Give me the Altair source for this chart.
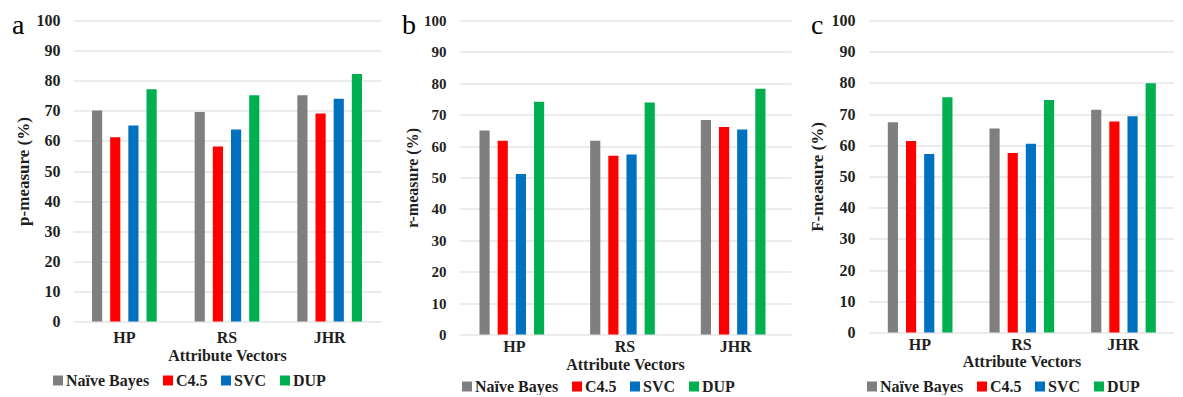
import altair as alt
import pandas as pd

vectors = ["HP", "RS", "JHR"]
methods = ["Naïve Bayes", "C4.5", "SVC", "DUP"]
colors = ["#7f7f7f", "#ff0000", "#0070c0", "#00b050"]

# panel a: p-measure
p_nb = [70.1, 69.6, 75.2]
p_c45 = [61.2, 58.1, 69.1]
p_svc = [65.1, 63.8, 74.0]
p_dup = [77.2, 75.2, 82.2]

# panel b: r-measure
r_nb = [65.0, 61.7, 68.3]
r_c45 = [61.7, 56.9, 66.1]
r_svc = [51.1, 57.3, 65.3]
r_dup = [74.1, 73.9, 78.3]

# panel c: F-measure
f_nb = [67.4, 65.4, 71.4]
f_c45 = [61.4, 57.5, 67.6]
f_svc = [57.2, 60.5, 69.3]
f_dup = [75.4, 74.5, 79.9]

panel_letters = ["a", "b", "c"]
y_titles = ["p-measure (%)", "r-measure (%)", "F-measure (%)"]
x_title = "Attribute Vectors"
y_ticks = [0, 10, 20, 30, 40, 50, 60, 70, 80, 90, 100]

FONT = "Liberation Serif"
TXT = "#1f1f1f"


def make_df(series):
    rows = []
    for m, vals in zip(methods, series):
        for v, val in zip(vectors, vals):
            rows.append({"vector": v, "method": m, "value": val})
    return pd.DataFrame(rows)


def panel(letter, ytitle, series, width, height, fs, yfs, lab_pad_y, title_pad_y,
          lab_pad_x, title_pad_x, letter_x, leg_x, leg_y):
    df = make_df(series)
    bars = alt.Chart(df).mark_bar().encode(
        x=alt.X("vector:N", sort=vectors,
                scale=alt.Scale(paddingInner=0.37, paddingOuter=0.185),
                axis=alt.Axis(title=x_title, labelAngle=0, ticks=False, tickSize=0,
                              domain=False, grid=False, labelFont=FONT,
                              labelFontWeight="bold", labelFontSize=fs,
                              labelColor=TXT, labelPadding=lab_pad_x,
                              titleFont=FONT, titleFontWeight="bold",
                              titleFontSize=fs, titleColor=TXT,
                              titlePadding=title_pad_x)),
        xOffset=alt.XOffset("method:N", sort=methods,
                            scale=alt.Scale(paddingInner=0.44, paddingOuter=0)),
        y=alt.Y("value:Q", scale=alt.Scale(domain=[0, 100], nice=False),
                axis=alt.Axis(title=ytitle, values=y_ticks, ticks=False, tickSize=0,
                              domain=False, grid=True, gridColor="#d9d9d9",
                              gridWidth=1, labelFont=FONT, labelFontWeight="bold",
                              labelFontSize=yfs, labelColor=TXT,
                              labelPadding=lab_pad_y, titleFont=FONT,
                              titleFontWeight="bold", titleFontSize=yfs + 1,
                              titleColor=TXT, titlePadding=title_pad_y)),
        color=alt.Color("method:N", sort=methods,
                        scale=alt.Scale(domain=methods, range=colors),
                        legend=alt.Legend(title=None, orient="none",
                                          direction="horizontal",
                                          legendX=leg_x, legendY=leg_y,
                                          symbolType="square", symbolSize=100,
                                          symbolStrokeWidth=0, symbolOpacity=1,
                                          labelFont=FONT, labelFontWeight="bold",
                                          labelFontSize=fs, labelColor=TXT,
                                          labelOffset=0, columnPadding=10,
                                          padding=0)),
    )
    lt = alt.Chart(pd.DataFrame({"letter": [letter]})).mark_text(
        font=FONT, fontSize=28, align="left", baseline="alphabetic", color="#000000"
    ).encode(text="letter:N", x=alt.value(letter_x), y=alt.value(13))
    return alt.layer(bars, lt).properties(width=width, height=height)


pa = panel(panel_letters[0], y_titles[0], [p_nb, p_c45, p_svc, p_dup],
           308, 301, 16, 16, 13, 4, 8, 2, -61, -23, 352)
pb = panel(panel_letters[1], y_titles[1], [r_nb, r_c45, r_svc, r_dup],
           332, 314, 16, 15, 13, 3, 4, 2, -57, 0, 358)
pc = panel(panel_letters[2], y_titles[2], [f_nb, f_c45, f_svc, f_dup],
           305, 312, 16, 16, 14, 5, 4, 1, -58, -5, 358)

chart = alt.hconcat(pa, pb, pc, spacing=78, bounds="flush").resolve_scale(
    color="independent", x="independent", y="independent"
).properties(
    padding={"left": 4, "top": 3.5, "right": 0, "bottom": 0}
).configure(background="white", font=FONT).configure_view(stroke=None)

chart.save("out.html", embed_options={"renderer": "svg", "actions": False})
